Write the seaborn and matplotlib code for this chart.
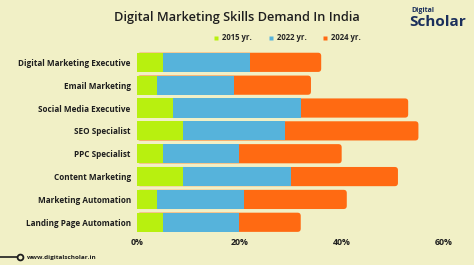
import matplotlib
matplotlib.use("Agg")
import matplotlib.pyplot as plt
import seaborn as sns
import pandas as pd
import numpy as np
from matplotlib.patches import FancyBboxPatch
from matplotlib.lines import Line2D

roles = ["Digital Marketing Executive", "Email Marketing", "Social Media Executive",
         "SEO Specialist", "PPC Specialist", "Content Marketing",
         "Marketing Automation", "Landing Page Automation"]
seg_2015 = [5, 4, 7, 9, 5, 9, 4, 5]
seg_2022 = [17, 15, 25, 20, 15, 21, 17, 15]
seg_2024 = [14, 15, 21, 26, 20, 21, 20, 12]
series_names = ["2015 yr.", "2022 yr.", "2024 yr."]
xticks = [0, 20, 40, 60]
xtick_labels = ["0%", "20%", "40%", "60%"]

BG = "#F1F0C6"
C_GREEN = "#B8F00F"
C_BLUE = "#56B3DB"
C_ORANGE = "#FF6A12"
DARK = "#1E1E1E"

sns.set_theme(style="white")
plt.rcParams["font.family"] = ["Open Sans", "DejaVu Sans"]

df = pd.DataFrame({"role": roles, "s15": seg_2015, "s22": seg_2022, "s24": seg_2024})
df["c15"] = df["s15"]
df["c22"] = df["s15"] + df["s22"]
df["c24"] = df["c22"] + df["s24"]

fig = plt.figure(figsize=(4.74, 2.65), dpi=100, facecolor=BG)
ax = fig.add_axes([137/474, 1 - 233.7/265, (444 - 137)/474, (233.7 - 50.9)/265])
ax.set_facecolor(BG)

W = 0.84
sns.barplot(data=df, x="c24", y="role", order=roles, color=C_ORANGE, width=W,
            saturation=1, edgecolor="none", linewidth=0, ax=ax, orient="h")
n_or = len(ax.patches)
sns.barplot(data=df, x="c22", y="role", order=roles, color=C_BLUE, width=W,
            saturation=1, edgecolor="none", linewidth=0, ax=ax, orient="h")
sns.barplot(data=df, x="c15", y="role", order=roles, color=C_GREEN, width=W,
            saturation=1, edgecolor="none", linewidth=0, ax=ax, orient="h")

ax.set_xlim(0, 60)
ax.set_ylim(7.5, -0.5)

# round the right ends of the orange (total) bars
xpp = 60 / 307.0
ypp = 8 / 182.8
aspect = ypp / xpp
orange = list(ax.patches[:n_or])
for p in orange:
    x0, y0 = p.get_x(), p.get_y()
    w, h = p.get_width(), p.get_height()
    p.set_visible(False)
    fb = FancyBboxPatch((x0, y0), w, h,
                        boxstyle=f"round,pad=0,rounding_size={3.2 * xpp}",
                        mutation_aspect=aspect, facecolor=C_ORANGE,
                        edgecolor="none", zorder=0.9)
    ax.add_patch(fb)

for s in ax.spines.values():
    s.set_visible(False)
ax.set_xlabel("")
ax.set_ylabel("")
ax.set_xticks(xticks)
ax.set_xticklabels(xtick_labels, fontsize=6.3, fontweight="bold", color=DARK)
ax.tick_params(axis="x", length=0, pad=3)
ax.tick_params(axis="y", length=0, pad=4.5)
for lab in ax.get_yticklabels():
    lab.set_fontsize(5.9)
    lab.set_fontweight("bold")
    lab.set_color(DARK)
ax.grid(False)

# title
fig.text(237/474, 1 - 17/265, "Digital Marketing Skills Demand In India",
         ha="center", va="center", fontsize=9.2, fontweight="semibold", color=DARK)

# legend
handles = [Line2D([], [], marker="s", linestyle="none", markersize=3.3,
                  markerfacecolor=c, markeredgecolor="none")
           for c in (C_GREEN, C_BLUE, C_ORANGE)]
fig.legend(handles, series_names, loc="center", bbox_to_anchor=(287/474, 1 - 38/265),
           ncol=3, frameon=False, prop={"size": 5.6, "weight": "bold"},
           handlelength=0.8, handletextpad=0.4, columnspacing=2.0)

# logo
fig.text(411/474, 1 - 10/265, "Digital", fontsize=5.0, fontweight="bold",
         color="#1B2F5C", ha="left", va="center")
fig.text(409/474, 1 - 22/265, "Scholar", fontsize=11, fontweight="bold",
         color="#1B2F5C", ha="left", va="center")

# footer
fig.add_artist(Line2D([0, 17/474], [1 - 257/265, 1 - 257/265], color=DARK, lw=1.2,
                      transform=fig.transFigure))
fig.add_artist(Line2D([19.5/474], [1 - 257/265], marker="o", markersize=4.2,
                      markerfacecolor=BG, markeredgecolor=DARK, markeredgewidth=1.3,
                      transform=fig.transFigure))
fig.text(27/474, 1 - 257/265, "www.digitalscholar.in", fontsize=4.6, fontweight="bold",
         color=DARK, ha="left", va="center")

fig.savefig("out.png", dpi=100, facecolor=BG)
